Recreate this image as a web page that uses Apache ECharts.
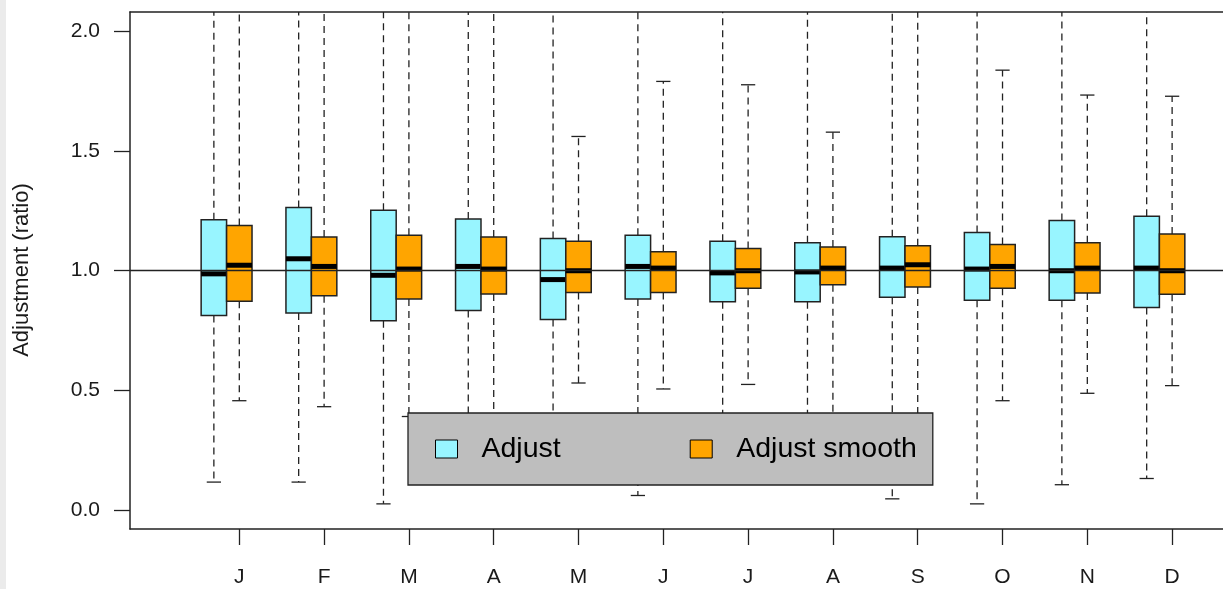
<!DOCTYPE html>
<html>
<head>
<meta charset="utf-8">
<title>Monthly adjustment ratios</title>
<script src="https://cdn.jsdelivr.net/npm/echarts@6/dist/echarts.min.js"></script>
<style>
  html, body { margin: 0; padding: 0; background: #ffffff; }
  #chart { width: 1223px; height: 589px; }
</style>
</head>
<body>
<div id="chart"></div>
<script>
// Month labels on the x axis
const months = ['J', 'F', 'M', 'A', 'M', 'J', 'J', 'A', 'S', 'O', 'N', 'D'];

// "Adjust" boxplot statistics per month
const adjustLow    = [0.116, 0.116, 0.025, 0.20, 0.15, 0.060, 0.20, 0.20, 0.046, 0.025, 0.105, 0.131];
const adjustQ1     = [0.812, 0.822, 0.790, 0.833, 0.795, 0.881, 0.869, 0.869, 0.888, 0.876, 0.876, 0.845];
const adjustMedian = [0.986, 1.049, 0.980, 1.017, 0.962, 1.017, 0.990, 0.994, 1.010, 1.006, 0.999, 1.010];
const adjustQ3     = [1.212, 1.263, 1.252, 1.215, 1.134, 1.147, 1.122, 1.116, 1.141, 1.159, 1.209, 1.227];
const adjustHigh   = [2.20, 2.20, 2.20, 2.20, 2.20, 2.20, 2.20, 2.20, 2.20, 2.20, 2.20, 2.20];

// "Adjust smooth" boxplot statistics per month
const smoothLow    = [0.456, 0.431, 0.390, 0.37, 0.530, 0.505, 0.524, 0.38, 0.36, 0.456, 0.487, 0.519];
const smoothQ1     = [0.872, 0.895, 0.881, 0.902, 0.908, 0.908, 0.926, 0.940, 0.931, 0.926, 0.906, 0.901];
const smoothMedian = [1.022, 1.017, 1.006, 1.006, 0.999, 1.010, 0.999, 1.010, 1.024, 1.017, 1.010, 0.999];
const smoothQ3     = [1.188, 1.140, 1.147, 1.140, 1.122, 1.078, 1.092, 1.098, 1.103, 1.109, 1.116, 1.152];
const smoothHigh   = [2.20, 2.20, 2.20, 2.20, 1.560, 1.790, 1.776, 1.578, 2.20, 1.837, 1.733, 1.728];

// y axis tick values
const yTicks = [0, 0.5, 1.0, 1.5, 2.0];

const BOX_W = 0.3;          // box width in month units
const PAIR_OFFSET = 0.3;    // "Adjust" box sits this far left of the month tick
const INK = '#222222';
const FONT = "'Liberation Sans', Arial, sans-serif";

function buildRows(lo, q1, med, q3, hi, shift) {
  return months.map((m, i) => [i + 1 + shift, lo[i], q1[i], med[i], q3[i], hi[i]]);
}

function renderBox(fill) {
  return function (params, api) {
    const x = api.value(0);
    const top = api.coord([x, api.value(5)]);
    const q3 = api.coord([x, api.value(4)]);
    const med = api.coord([x, api.value(3)]);
    const q1 = api.coord([x, api.value(2)]);
    const bot = api.coord([x, api.value(1)]);
    const w = api.size([BOX_W, 0])[0];
    const cx = top[0];
    const cap = w * 0.56;
    const dash = { stroke: INK, lineWidth: 1.3, lineDash: [7, 5] };
    const solid = { stroke: INK, lineWidth: 1.3 };
    return {
      type: 'group',
      children: [
        { type: 'line', shape: { x1: cx, y1: q3[1], x2: cx, y2: top[1] }, style: dash },
        { type: 'line', shape: { x1: cx, y1: q1[1], x2: cx, y2: bot[1] }, style: dash },
        { type: 'line', shape: { x1: cx - cap / 2, y1: top[1], x2: cx + cap / 2, y2: top[1] }, style: solid },
        { type: 'line', shape: { x1: cx - cap / 2, y1: bot[1], x2: cx + cap / 2, y2: bot[1] }, style: solid },
        { type: 'rect', shape: { x: cx - w / 2, y: q3[1], width: w, height: q1[1] - q3[1] },
          style: { fill: fill, stroke: INK, lineWidth: 1.5 } },
        { type: 'line', shape: { x1: cx - w / 2, y1: med[1], x2: cx + w / 2, y2: med[1] },
          style: { stroke: '#000000', lineWidth: 5 } }
      ]
    };
  };
}

const CYAN = '#98F5FF';
const ORANGE = '#FFA500';
const frameLine = { show: true, onZero: false, lineStyle: { color: INK, width: 1.5 } };
const tickStyle = { color: INK, width: 1.3 };

const chart = echarts.init(document.getElementById('chart'), null, { renderer: 'canvas' });

chart.setOption({
  animation: false,
  backgroundColor: '#ffffff',
  graphic: [
    { type: 'rect', left: 0, top: 0, shape: { width: 6, height: 589 }, style: { fill: '#EBEBEB' }, silent: true },
    {
      type: 'text', x: 22, y: 270, rotation: Math.PI / 2, silent: true,
      style: { text: 'Adjustment (ratio)', fontFamily: FONT, fontSize: 22, fill: '#1a1a1a',
               align: 'center', verticalAlign: 'middle' }
    }
  ],
  grid: { left: 130, top: 12, height: 517, right: 0, show: false },
  legend: {
    left: 408, top: 413,
    orient: 'horizontal',
    selectedMode: false,
    backgroundColor: '#BEBEBE',
    borderColor: INK, borderWidth: 1.3, borderRadius: 0,
    padding: [21, 16, 21, 27],
    itemGap: 129,
    itemWidth: 22, itemHeight: 18,
    textStyle: { fontFamily: FONT, fontSize: 28.5, color: '#000000', lineHeight: 30, padding: [0, 0, 0, 19] },
    data: [
      { name: 'Adjust', icon: 'rect', itemStyle: { color: CYAN, borderColor: '#000', borderWidth: 1 } },
      { name: 'Adjust smooth', icon: 'rect', itemStyle: { color: ORANGE, borderColor: '#000', borderWidth: 1 } }
    ]
  },
  xAxis: [
    {
      type: 'value',
      position: 'bottom',
      min: -0.289, max: 12.6,
      splitLine: { show: false },
      axisLine: frameLine,
      axisTick: { show: true, inside: false, length: 16, lineStyle: tickStyle, customValues: months.map((m, i) => i + 1) },
      axisLabel: {
        customValues: months.map((m, i) => i + 1),
        formatter: v => months[Math.round(v) - 1] || '',
        margin: 38, fontFamily: FONT, fontSize: 21, color: '#1a1a1a'
      }
    },
    {
      // top edge of the plot frame
      type: 'value',
      position: 'top',
      min: -0.289, max: 12.6,
      splitLine: { show: false },
      axisLine: frameLine,
      axisTick: { show: false },
      axisLabel: { show: false }
    }
  ],
  yAxis: {
    type: 'value',
    min: -0.08, max: 2.08,
    splitLine: { show: false },
    axisLine: frameLine,
    axisTick: { show: true, inside: false, length: 16, lineStyle: tickStyle, customValues: yTicks },
    axisLabel: {
      customValues: yTicks,
      formatter: v => v.toFixed(1),
      margin: 30, fontFamily: FONT, fontSize: 21, color: '#1a1a1a'
    }
  },
  series: [
    {
      name: 'Adjust',
      type: 'custom',
      clip: true,
      xAxisIndex: 0,
      itemStyle: { color: CYAN },
      encode: { x: 0, y: [1, 2, 3, 4, 5] },
      renderItem: renderBox(CYAN),
      data: buildRows(adjustLow, adjustQ1, adjustMedian, adjustQ3, adjustHigh, -PAIR_OFFSET)
    },
    {
      name: 'Adjust smooth',
      type: 'custom',
      clip: true,
      xAxisIndex: 0,
      itemStyle: { color: ORANGE },
      encode: { x: 0, y: [1, 2, 3, 4, 5] },
      renderItem: renderBox(ORANGE),
      data: buildRows(smoothLow, smoothQ1, smoothMedian, smoothQ3, smoothHigh, 0),
      markLine: {
        silent: true,
        symbol: 'none',
        label: { show: false },
        lineStyle: { color: INK, width: 1.3, type: 'solid' },
        data: [{ yAxis: 1 }]
      }
    }
  ]
});
</script>
</body>
</html>
